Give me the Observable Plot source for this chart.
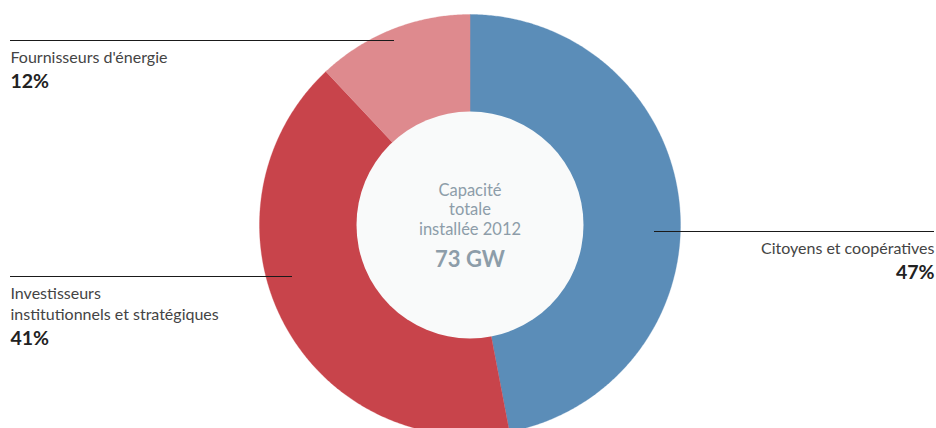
<!DOCTYPE html>
<html><head><meta charset="utf-8">
<script src="https://cdn.jsdelivr.net/npm/d3@7"></script>
<script src="https://cdn.jsdelivr.net/npm/@observablehq/plot@0.6"></script>
<style>body{margin:0;background:#fff}#chart svg{display:block}</style>
</head><body><div id="chart"></div>
<script>
// Data
const categories = ["Citoyens et coopératives", "Investisseurs institutionnels et stratégiques", "Fournisseurs d'énergie"];
const labelLines = [["Citoyens et coopératives"], ["Investisseurs", "institutionnels et stratégiques"], ["Fournisseurs d'énergie"]];
const shares = [47, 41, 12];
const colors = ["#5b8db8", "#c8444b", "#de8a8e"];
const centerLines = ["Capacité", "totale", "installée 2012"];
const centerValue = "73 GW";

// Layout
const W = 936, H = 428;
const cx = 469.5, cy = 224.5, rOuter = 210.5, rInner = 113.5;
const font = "Lato, 'Open Sans', sans-serif";
const layout = [
  {lineY: 231, x1: 654, x2: 934, side: "right", textY: 253},
  {lineY: 276, x1: 10, x2: 292, side: "left", textY: 298},
  {lineY: 40, x1: 10, x2: 394, side: "left", textY: 62}
];

// Build slice polygons from shares
const total = d3.sum(shares);
const poly = [];
let acc = 0;
shares.forEach((v, i) => {
  const a0 = acc / total * 2 * Math.PI, a1 = (acc + v) / total * 2 * Math.PI;
  acc += v;
  poly.push({cat: categories[i], x: cx, y: cy});
  const n = Math.max(4, Math.ceil((a1 - a0) * 120));
  for (let k = 0; k <= n; k++) {
    const a = a0 + (a1 - a0) * k / n;
    poly.push({cat: categories[i], x: cx + rOuter * Math.sin(a), y: cy - rOuter * Math.cos(a)});
  }
});

const rules = layout.map((l, i) => ({cat: categories[i], x1: l.x1, x2: l.x2, y: l.lineY}));
const nameTexts = [];
const pctTexts = [];
layout.forEach((l, i) => {
  const tx = l.side === "left" ? 10 : 934;
  labelLines[i].forEach((t, j) => nameTexts.push({x: tx, y: l.textY + j * 21, text: t, anchor: l.side === "left" ? "start" : "end"}));
  pctTexts.push({x: tx, y: l.textY + (labelLines[i].length - 1) * 21 + 25.5, text: shares[i] + "%", anchor: l.side === "left" ? "start" : "end"});
});
const centerTexts = centerLines.map((t, j) => ({x: cx, y: 195 + j * 19.5, text: t}));

const chart = Plot.plot({
  width: W, height: H,
  margin: 0,
  x: {type: "linear", domain: [0, W], range: [0, W], axis: null},
  y: {type: "linear", domain: [0, H], range: [0, H], axis: null},
  color: {domain: categories, range: colors},
  style: {fontFamily: font, background: "#fff", overflow: "hidden"},
  marks: [
    Plot.line(poly, {x: "x", y: "y", z: "cat", fill: "cat", stroke: "cat", strokeWidth: 0.3, curve: "linear-closed"}),
    Plot.dot([{x: cx, y: cy}], {x: "x", y: "y", r: rInner, fill: "#f9fafa", stroke: null}),
    Plot.ruleY(rules, {y: "y", x1: "x1", x2: "x2", stroke: "#1a1a1a", strokeWidth: 1}),
    Plot.text(nameTexts.filter(d => d.anchor === "start"), {x: "x", y: "y", text: "text", textAnchor: "start", lineAnchor: "bottom", fontSize: 16, fill: "#444"}),
    Plot.text(nameTexts.filter(d => d.anchor === "end"), {x: "x", y: "y", text: "text", textAnchor: "end", lineAnchor: "bottom", fontSize: 16, fill: "#444"}),
    Plot.text(pctTexts.filter(d => d.anchor === "start"), {x: "x", y: "y", text: "text", textAnchor: "start", lineAnchor: "bottom", fontSize: 19.5, fontWeight: "bold", fill: "#222"}),
    Plot.text(pctTexts.filter(d => d.anchor === "end"), {x: "x", y: "y", text: "text", textAnchor: "end", lineAnchor: "bottom", fontSize: 19.5, fontWeight: "bold", fill: "#222"}),
    Plot.text(centerTexts, {x: "x", y: "y", text: "text", textAnchor: "middle", lineAnchor: "bottom", fontSize: 16.5, fill: "#8d9da9"}),
    Plot.text([{x: cx, y: 266, text: centerValue}], {x: "x", y: "y", text: "text", textAnchor: "middle", lineAnchor: "bottom", fontSize: 22, fontWeight: "bold", fill: "#8d9da9"})
  ]
});
document.getElementById("chart").appendChild(chart);
</script></body></html>
